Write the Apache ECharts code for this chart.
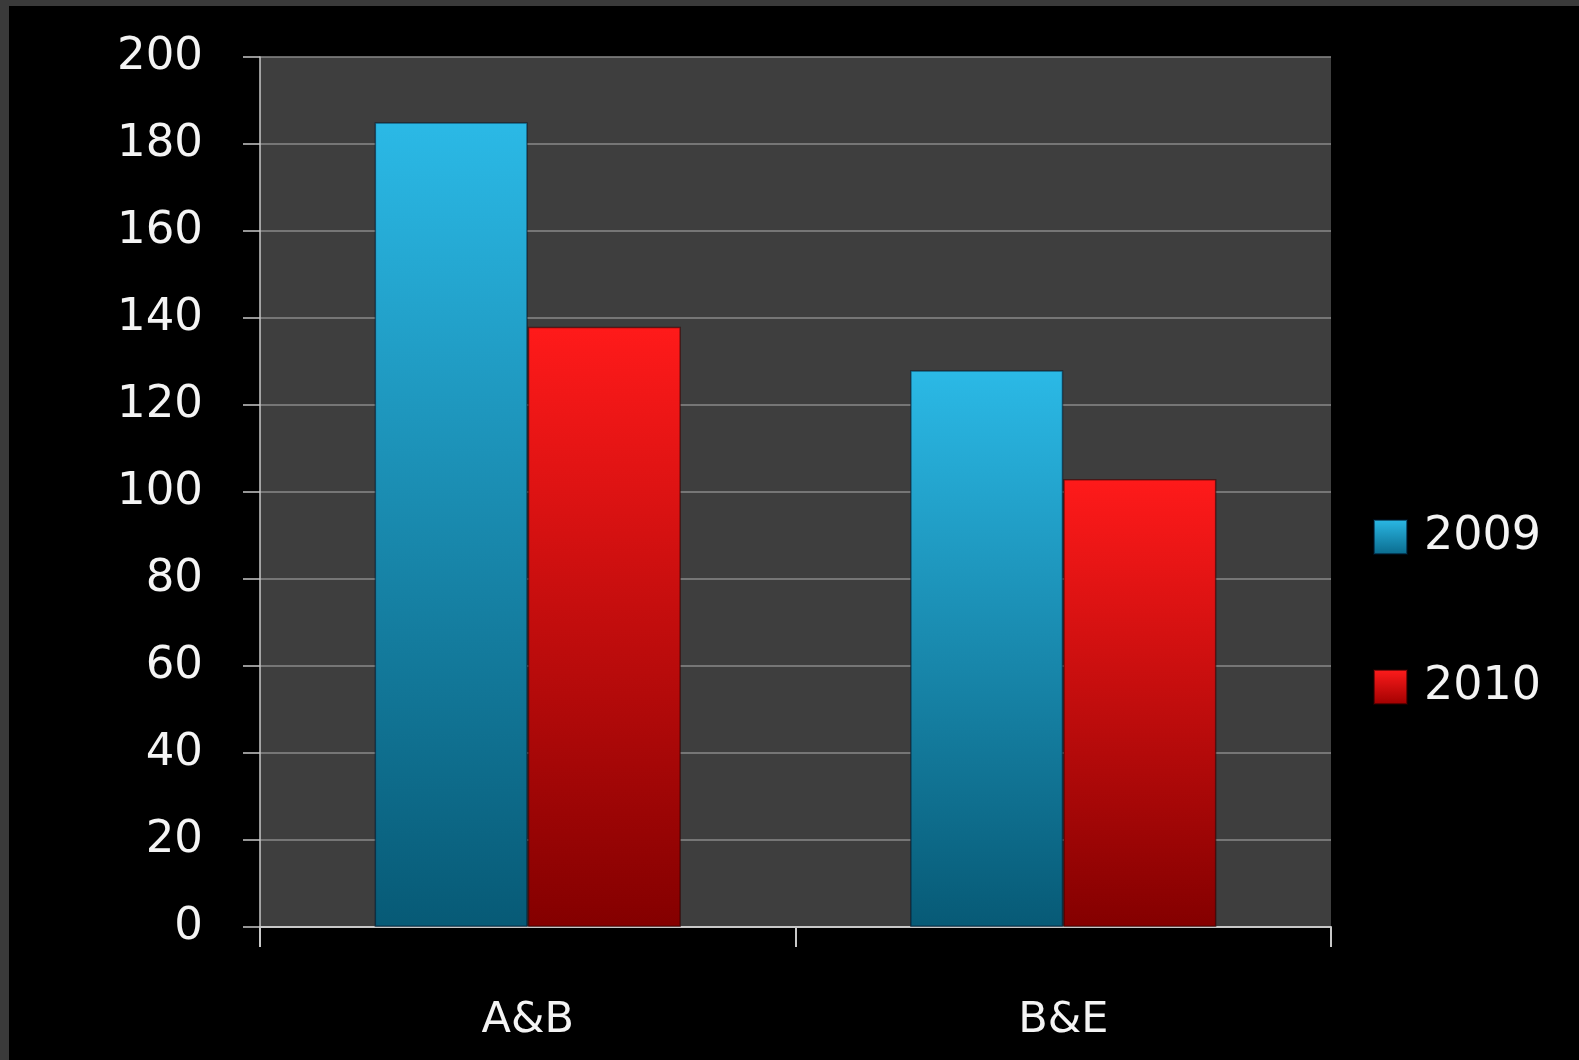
<!DOCTYPE html>
<html>
<head>
<meta charset="utf-8">
<script src="https://cdn.jsdelivr.net/npm/echarts@6/dist/echarts.min.js"></script>
<style>
  html, body { margin: 0; padding: 0; width: 1579px; height: 1060px; background: #3a3a3a; overflow: hidden; }
  #chart { position: absolute; left: 9px; top: 6px; width: 1570px; height: 1054px; background: #000; }
</style>
</head>
<body>
<div id="chart"></div>
<script>
// Categories and yearly values
const categories = ['A&B', 'B&E'];
const seriesNames = ['2009', '2010'];
const values2009 = [185, 128];
const values2010 = [138, 103];
const yTicks = [0, 20, 40, 60, 80, 100, 120, 140, 160, 180, 200];

const FONT = '"DejaVu Sans", "Open Sans", sans-serif';

function vGrad(top, bottom) {
  return new echarts.graphic.LinearGradient(0, 0, 0, 1, [
    { offset: 0, color: top },
    { offset: 1, color: bottom }
  ]);
}

const blueFill = vGrad('#2bb9e6', '#075a76');
const redFill = vGrad('#ff1a1a', '#840000');

const chart = echarts.init(document.getElementById('chart'), null, { renderer: 'canvas' });

chart.setOption({
  backgroundColor: '#000000',
  animation: false,
  textStyle: { fontFamily: FONT },
  grid: {
    left: 251, top: 51, width: 1071, height: 870,
    show: true, backgroundColor: '#3e3e3e', borderWidth: 0
  },
  legend: {
    orient: 'vertical',
    left: 1359,
    top: 503,
    itemWidth: 33,
    itemHeight: 34,
    itemGap: 104,
    icon: 'rect',
    textStyle: { color: '#f4f4f4', fontSize: 46, fontFamily: FONT, lineHeight: 42, padding: [0, 0, 0, 12] },
    data: [
      { name: seriesNames[0], itemStyle: { color: vGrad('#2bb9e6', '#0a6a8c') } },
      { name: seriesNames[1], itemStyle: { color: vGrad('#ff1c1c', '#a00000') } }
    ]
  },
  xAxis: {
    type: 'category',
    data: categories,
    axisLine: { show: true, lineStyle: { color: '#c8c8c8', width: 2 } },
    axisTick: { show: true, length: 20, lineStyle: { color: '#c8c8c8', width: 2 } },
    axisLabel: { color: '#f4f4f4', fontSize: 43, fontFamily: FONT, margin: 72 },
    splitLine: { show: false }
  },
  yAxis: {
    type: 'value',
    min: 0, max: 200, interval: 20,
    axisLine: { show: true, lineStyle: { color: '#c8c8c8', width: 1.5 } },
    axisTick: { show: true, length: 17, lineStyle: { color: '#c8c8c8', width: 1.5 } },
    axisLabel: {
      color: '#f4f4f4', fontSize: 45, fontFamily: FONT, margin: 57,
      padding: [0, 0, 8, 0],
      formatter: v => (yTicks.indexOf(v) >= 0 ? String(v) : '')
    },
    splitLine: { show: true, lineStyle: { color: '#8a8a8a', width: 1.5 } }
  },
  series: [
    {
      name: seriesNames[0],
      type: 'bar',
      data: values2009,
      barGap: '0%',
      barCategoryGap: '42.8%',
      itemStyle: { color: blueFill, borderColor: 'rgba(0,20,40,0.55)', borderWidth: 1.5 }
    },
    {
      name: seriesNames[1],
      type: 'bar',
      data: values2010,
      barGap: '0%',
      barCategoryGap: '42.8%',
      itemStyle: { color: redFill, borderColor: 'rgba(40,0,0,0.55)', borderWidth: 1.5 }
    }
  ]
});
</script>
</body>
</html>
